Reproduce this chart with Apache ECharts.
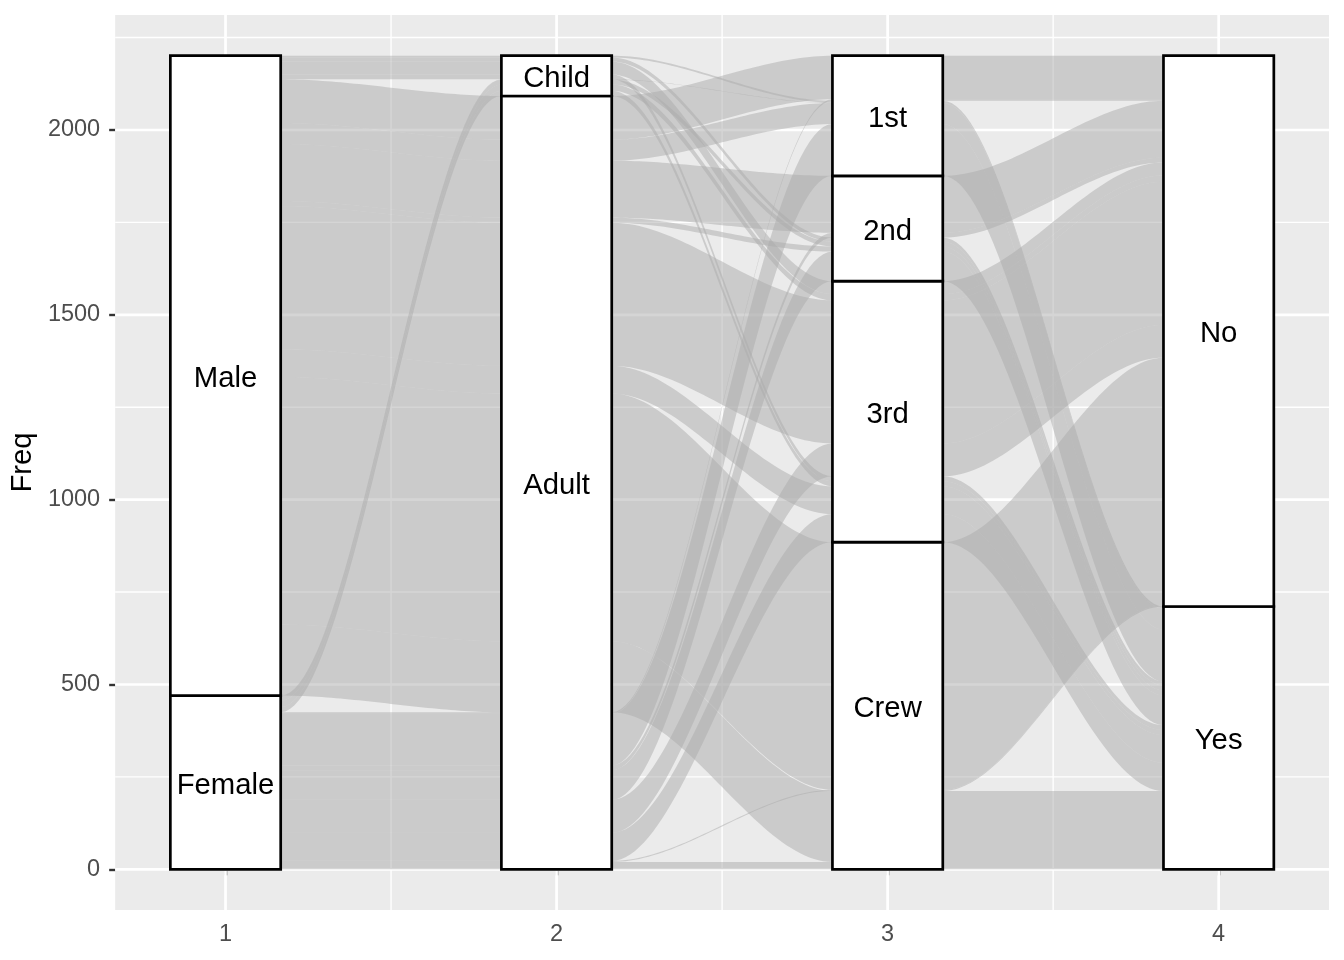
<!DOCTYPE html>
<html>
<head>
<meta charset="utf-8">
<script src="https://cdn.jsdelivr.net/npm/echarts@6/dist/echarts.min.js"></script>
<style>
html,body{margin:0;padding:0;background:#ffffff;}
#chart{width:1344px;height:960px;}
</style>
</head>
<body>
<div id="chart"></div>
<script>
// ---- Titanic table (one row per cell) ----
const cellClass = ['1st','2nd','3rd','Crew','1st','2nd','3rd','Crew','1st','2nd','3rd','Crew','1st','2nd','3rd','Crew',
                   '1st','2nd','3rd','Crew','1st','2nd','3rd','Crew','1st','2nd','3rd','Crew','1st','2nd','3rd','Crew'];
const cellSex = ['Male','Male','Male','Male','Female','Female','Female','Female','Male','Male','Male','Male','Female','Female','Female','Female',
                 'Male','Male','Male','Male','Female','Female','Female','Female','Male','Male','Male','Male','Female','Female','Female','Female'];
const cellAge = ['Child','Child','Child','Child','Child','Child','Child','Child','Adult','Adult','Adult','Adult','Adult','Adult','Adult','Adult',
                 'Child','Child','Child','Child','Child','Child','Child','Child','Adult','Adult','Adult','Adult','Adult','Adult','Adult','Adult'];
const cellSurvived = ['No','No','No','No','No','No','No','No','No','No','No','No','No','No','No','No',
                      'Yes','Yes','Yes','Yes','Yes','Yes','Yes','Yes','Yes','Yes','Yes','Yes','Yes','Yes','Yes','Yes'];
const freq = [0,0,35,0, 0,0,17,0, 118,154,387,670, 4,13,89,3,
              5,11,13,0, 1,13,14,0, 57,14,75,192, 140,80,76,20];

// axes of the alluvial plot (levels listed top to bottom)
const sexLevels = ['Male','Female'];
const ageLevels = ['Child','Adult'];
const classLevels = ['1st','2nd','3rd','Crew'];
const survivedLevels = ['No','Yes'];
const axisPositions = [1,2,3,4];

// tick values
const xTicks = [1,2,3,4];
const xMinor = [1.5,2.5,3.5];
const yTicks = [0,500,1000,1500,2000];
const yMinor = [250,750,1250,1750,2250];

// ---- layout (ggalluvial style: zigzag lode guidance) ----
const axisVars = [cellSex, cellAge, cellClass, cellSurvived];
const axisLevels = [sexLevels, ageLevels, classLevels, survivedLevels];
const nAx = axisVars.length;
const zig = [[0,1,2,3],[1,0,2,3],[2,3,1,0],[3,2,1,0]];
const W = 1/3, HW = W/2;
const n = freq.length;
const total = freq.reduce((s,v)=>s+v,0);
const lo = [], hi = [];
function rank(b, j){ return axisLevels[b].length - 1 - axisLevels[b].indexOf(axisVars[b][j]); }
for (let a = 0; a < nAx; a++) {
  const idx = Array.from({length:n}, (_,i)=>i).sort((p,q)=>{
    for (const b of zig[a]) { const d = rank(b,p) - rank(b,q); if (d) return d; }
    return p - q;
  });
  lo[a] = []; hi[a] = [];
  let cum = 0;
  for (const j of idx) { lo[a][j] = cum; cum += freq[j]; hi[a][j] = cum; }
}
// strata
const strata = [];
for (let a = 0; a < nAx; a++) {
  let cum = 0;
  const lev = axisLevels[a];
  for (let k = lev.length - 1; k >= 0; k--) {
    let s = 0;
    for (let j = 0; j < n; j++) if (axisVars[a][j] === lev[k]) s += freq[j];
    strata.push({value:[axisPositions[a], cum, cum + s], name: lev[k]});
    cum += s;
  }
}
const alluvia = [];
for (let j = 0; j < n; j++) if (freq[j] > 0) alluvia.push({value:[1, 0], idx: j});

const xMin = axisPositions[0] - HW - 0.05*(axisPositions[nAx-1] - axisPositions[0] + W);
const xMax = axisPositions[nAx-1] + HW + 0.05*(axisPositions[nAx-1] - axisPositions[0] + W);
const yMin = -0.05*total, yMax = 1.05*total;

const gridData = [];
xMinor.forEach(v=>gridData.push({value:[v,0], dir:'x', major:false}));
yMinor.forEach(v=>gridData.push({value:[1,v], dir:'y', major:false}));
xTicks.forEach(v=>gridData.push({value:[v,0], dir:'x', major:true}));
yTicks.forEach(v=>gridData.push({value:[1,v], dir:'y', major:true}));

function smooth(u){ return u*u*(3-2*u); }

const chart = echarts.init(document.getElementById('chart'), null, {renderer:'canvas'});
const FONT = '"Liberation Sans", Arial, Helvetica, sans-serif';
chart.setOption({
  animation:false,
  backgroundColor:'#ffffff',
  grid:{left:114.5, right:15, top:15, bottom:50, show:true, backgroundColor:'#EBEBEB', borderWidth:0, containLabel:false},
  xAxis:{type:'value', min:xMin, max:xMax,
    axisLine:{show:false},
    axisTick:{show:true, customValues:xTicks, length:6, lineStyle:{color:'#333333', width:2.4}},
    axisLabel:{customValues:xTicks, color:'#4D4D4D', fontSize:23.5, fontFamily:FONT, margin:13, formatter:v=>String(v)},
    splitLine:{show:false}},
  yAxis:{type:'value', min:yMin, max:yMax, name:'Freq', nameLocation:'middle', nameRotate:90, nameGap:72,
    nameTextStyle:{color:'#000000', fontSize:29.3, fontFamily:FONT},
    axisLine:{show:false},
    axisTick:{show:true, customValues:yTicks, length:6, lineStyle:{color:'#333333', width:2.4}},
    axisLabel:{customValues:yTicks, color:'#4D4D4D', fontSize:23.5, fontFamily:FONT, margin:15, formatter:v=>String(v)},
    splitLine:{show:false}},
  series:[
    {type:'custom', coordinateSystem:'cartesian2d', z:1, silent:true, data:gridData,
     renderItem:function(params, api){
       const d = gridData[params.dataIndex];
       const cs = params.coordSys;
       const w = d.major ? 2.7 : 1.4;
       if (d.dir === 'x') {
         const p = api.coord([d.value[0], yMin]);
         return {type:'line', shape:{x1:p[0], y1:cs.y, x2:p[0], y2:cs.y+cs.height}, style:{stroke:'#ffffff', lineWidth:w}};
       } else {
         const p = api.coord([xMin, d.value[1]]);
         return {type:'line', shape:{x1:cs.x, y1:p[1], x2:cs.x+cs.width, y2:p[1]}, style:{stroke:'#ffffff', lineWidth:w}};
       }
     }},
    {type:'custom', coordinateSystem:'cartesian2d', z:2, silent:true, data:alluvia,
     renderItem:function(params, api){
       const j = alluvia[params.dataIndex].idx;
       const top = [], bot = [];
       const NS = 48;
       for (let a = 0; a < nAx; a++) {
         const xa = axisPositions[a];
         top.push(api.coord([xa - HW, hi[a][j]]));
         top.push(api.coord([xa + HW, hi[a][j]]));
         bot.push(api.coord([xa - HW, lo[a][j]]));
         bot.push(api.coord([xa + HW, lo[a][j]]));
         if (a < nAx - 1) {
           const x0 = xa + HW, x1 = axisPositions[a+1] - HW;
           for (let s = 1; s < NS; s++) {
             const u = s / NS, f = smooth(u), x = x0 + (x1 - x0)*u;
             top.push(api.coord([x, hi[a][j] + (hi[a+1][j] - hi[a][j])*f]));
             bot.push(api.coord([x, lo[a][j] + (lo[a+1][j] - lo[a][j])*f]));
           }
         }
       }
       const pts = top.concat(bot.reverse());
       return {type:'polygon', shape:{points:pts}, style:{fill:'rgba(172,172,172,0.5)', stroke:null}};
     }},
    {type:'custom', coordinateSystem:'cartesian2d', z:3, silent:true, data:strata,
     renderItem:function(params, api){
       const s = strata[params.dataIndex];
       const p0 = api.coord([s.value[0] - HW, s.value[2]]);
       const p1 = api.coord([s.value[0] + HW, s.value[1]]);
       const c = api.coord([s.value[0], (s.value[1] + s.value[2]) / 2]);
       return {type:'group', children:[
         {type:'rect', shape:{x:p0[0], y:p0[1], width:p1[0]-p0[0], height:p1[1]-p0[1]},
          style:{fill:'#ffffff', stroke:'#000000', lineWidth:2.7}},
         {type:'text', z2:10, style:{text:s.name, x:c[0], y:c[1] + 3, align:'center', verticalAlign:'middle',
          fontSize:29.3, fontFamily:FONT, fill:'#000000'}}
       ]};
     }}
  ]
});
</script>
</body>
</html>
